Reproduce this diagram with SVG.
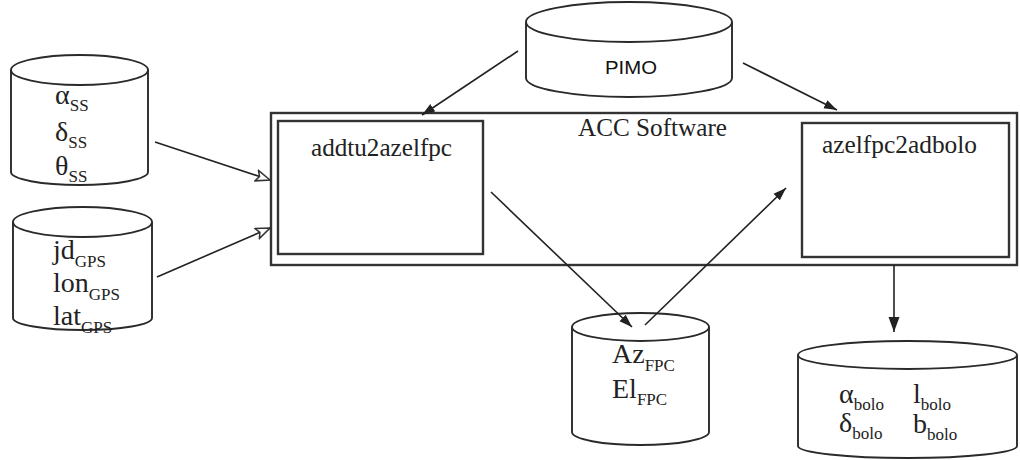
<svg xmlns="http://www.w3.org/2000/svg" width="1020" height="460" viewBox="0 0 1020 460">
<style>
.shape{fill:#fff;stroke:#2a2a2a;stroke-width:1.9}
.box{fill:none;stroke:#333;stroke-width:2.4}
.conn{fill:none;stroke:#222;stroke-width:1.6}
.t{font-family:"Liberation Serif","Times New Roman",serif;fill:#222}
.m{font-size:28px}
.s{font-size:17px}
.lbl{font-size:25px}
.sans{font-family:"Liberation Sans",Arial,sans-serif;font-size:19px;fill:#111}
</style>
<defs>
<marker id="arr" markerWidth="13" markerHeight="10" refX="13" refY="5" orient="auto" markerUnits="userSpaceOnUse">
<path d="M0,0.5 L13,5 L0,9.5 Z" fill="#222"/>
</marker>
<marker id="arrL" markerWidth="15" markerHeight="12" refX="15" refY="6" orient="auto" markerUnits="userSpaceOnUse">
<path d="M0,0.5 L15,6 L0,11.5 Z" fill="#222"/>
</marker>
<marker id="open" markerWidth="16" markerHeight="13" refX="15" refY="6.5" orient="auto" markerUnits="userSpaceOnUse">
<path d="M1,1 L15,6.5 L1,12 L4,6.5 Z" fill="#fff" stroke="#333" stroke-width="1.5" stroke-linejoin="miter"/>
</marker>
</defs>

<g id="cyl-ss">
<path class="shape" d="M11,70 L11,172 A68.5,13 0 0 0 148,172 L148,70"/>
<ellipse class="shape" cx="79.5" cy="70" rx="68.5" ry="15"/>
<text class="t" x="55" y="104"><tspan class="m">α</tspan><tspan class="s" dy="7">SS</tspan></text>
<text class="t" x="55" y="141"><tspan class="m">δ</tspan><tspan class="s" dy="7">SS</tspan></text>
<text class="t" x="55" y="175"><tspan class="m">θ</tspan><tspan class="s" dy="7">SS</tspan></text>
</g>

<g id="cyl-gps">
<path class="shape" d="M13,222 L13,318 A69.5,12 0 0 0 152,318 L152,222"/>
<ellipse class="shape" cx="82.5" cy="222" rx="69.5" ry="15"/>
<text class="t" x="53" y="259"><tspan class="m">jd</tspan><tspan class="s" dy="8">GPS</tspan></text>
<text class="t" x="53" y="292"><tspan class="m">lon</tspan><tspan class="s" dy="8">GPS</tspan></text>
<text class="t" x="53" y="325"><tspan class="m">lat</tspan><tspan class="s" dy="8">GPS</tspan></text>
</g>

<g id="pimo">
<path class="shape" d="M526,22 L526,78 A103,19 0 0 0 732,78 L732,22"/>
<ellipse class="shape" cx="629" cy="22" rx="103" ry="20"/>
<text class="sans" x="605" y="74" textLength="52" lengthAdjust="spacingAndGlyphs">PIMO</text>
</g>

<g id="acc-software">
<rect class="box" x="271" y="113" width="746" height="152"/>
<text class="t lbl" x="578" y="136" textLength="149" lengthAdjust="spacingAndGlyphs">ACC Software</text>
</g>

<g id="addtu2azelfpc">
<rect class="box" x="278" y="121" width="205" height="133"/>
<text class="t lbl" x="311" y="156" textLength="141" lengthAdjust="spacingAndGlyphs">addtu2azelfpc</text>
</g>

<g id="azelfpc2adbolo">
<rect class="box" x="802" y="123" width="207" height="134"/>
<text class="t lbl" x="822" y="153" textLength="155" lengthAdjust="spacingAndGlyphs">azelfpc2adbolo</text>
</g>

<g id="cyl-fpc">
<path class="shape" d="M572,327 L572,432 A68.5,13 0 0 0 709,432 L709,327"/>
<ellipse class="shape" cx="640.5" cy="327" rx="68.5" ry="14"/>
<text class="t" x="612" y="363"><tspan class="m">Az</tspan><tspan class="s" dy="8">FPC</tspan></text>
<text class="t" x="612" y="398"><tspan class="m">El</tspan><tspan class="s" dy="7">FPC</tspan></text>
</g>

<g id="cyl-bolo">
<path class="shape" d="M798,355 L798,446 A109.5,12 0 0 0 1017,446 L1017,355"/>
<ellipse class="shape" cx="907.5" cy="355" rx="109.5" ry="14"/>
<text class="t" x="839" y="403"><tspan class="m">α</tspan><tspan class="s" dy="7">bolo</tspan></text>
<text class="t" x="839" y="432"><tspan class="m">δ</tspan><tspan class="s" dy="7">bolo</tspan></text>
<text class="t" x="913" y="403"><tspan class="m">l</tspan><tspan class="s" dy="7">bolo</tspan></text>
<text class="t" x="913" y="433"><tspan class="m">b</tspan><tspan class="s" dy="7">bolo</tspan></text>
</g>

<g id="connectors">
<line class="conn" x1="155" y1="142" x2="270" y2="180" marker-end="url(#open)"/>
<line class="conn" x1="157" y1="277" x2="270" y2="228" marker-end="url(#open)"/>
<line class="conn" x1="518" y1="51" x2="422" y2="115" marker-end="url(#arr)"/>
<line class="conn" x1="743" y1="63" x2="837" y2="110" marker-end="url(#arr)"/>
<line class="conn" x1="491" y1="192" x2="632" y2="327" marker-end="url(#arr)"/>
<line class="conn" x1="645" y1="325" x2="786" y2="188" marker-end="url(#arr)"/>
<line class="conn" x1="894" y1="265" x2="894" y2="332" stroke-width="2" marker-end="url(#arrL)"/>
</g>
</svg>
